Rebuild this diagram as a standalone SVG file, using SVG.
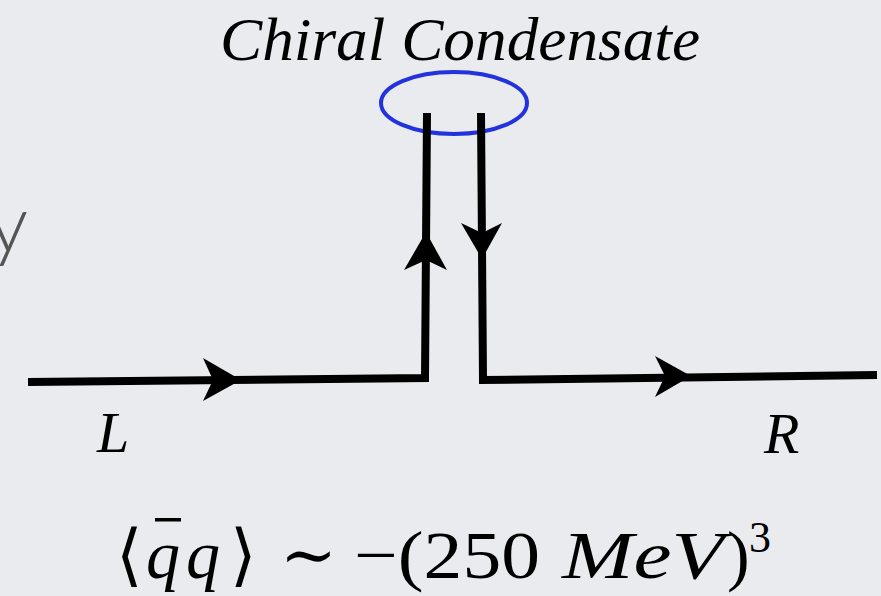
<svg xmlns="http://www.w3.org/2000/svg" width="881" height="596" viewBox="0 0 881 596">
<style>
.ln{fill:none;stroke:#000;stroke-width:8;stroke-linecap:butt;stroke-linejoin:miter}
.ah{fill:#000;stroke:none}
text.it{font-style:italic;fill:#000}
text.rm{fill:#000}
</style>
<rect width="881" height="596" fill="#eaebef"/>
<text x="-12" y="252" font-family="Lato, Open Sans, sans-serif" font-weight="300" font-size="80" fill="#555">y</text>
<g id="title" font-family="Times New Roman, Liberation Serif, DejaVu Serif, serif"><text class="it" x="220" y="60" font-size="62" textLength="480" lengthAdjust="spacingAndGlyphs">Chiral Condensate</text></g>
<g id="condensate"><ellipse cx="454" cy="103" rx="73" ry="31" fill="none" stroke="#2233dd" stroke-width="4"/></g>
<g id="connectors">
<path class="ln" d="M28,382 L425,378 L427,113"/>
<path class="ln" d="M481,113 L483,380 L877,375"/>
<path class="ah" d="M241,380 L203,358 L213,380 L203,401 Z"/>
<path class="ah" d="M691,376 L655,356 L665,376 L655,397 Z"/>
<path class="ah" d="M426,232 L404,270 L426,260 L447,270 Z"/>
<path class="ah" d="M482,259 L461,223 L482,233 L502,223 Z"/>
</g>
<g id="L" font-family="Times New Roman, Liberation Serif, DejaVu Serif, serif"><text class="it" x="97" y="452" font-size="58">L</text></g>
<g id="R" font-family="Times New Roman, Liberation Serif, DejaVu Serif, serif"><text class="it" x="764" y="453" font-size="58">R</text></g>
<g id="formula" font-size="68" font-family="Times New Roman, Liberation Serif, DejaVu Serif, serif">
<text class="rm" x="116" y="578">⟨</text>
<text class="it" x="146" y="578">q</text>
<rect x="155" y="518" width="26" height="3.5" fill="#000"/>
<text class="it" x="186" y="578">q</text>
<text class="rm" x="230" y="578">⟩</text>
<text class="rm" x="280" y="578">∼</text>
<text class="rm" x="354" y="578" textLength="186" lengthAdjust="spacingAndGlyphs">−(250</text>
<text class="it" x="562" y="578" textLength="162" lengthAdjust="spacingAndGlyphs">MeV</text>
<text class="rm" x="727" y="578">)</text>
<text class="rm" x="749" y="552" font-size="44">3</text>
</g>
</svg>
